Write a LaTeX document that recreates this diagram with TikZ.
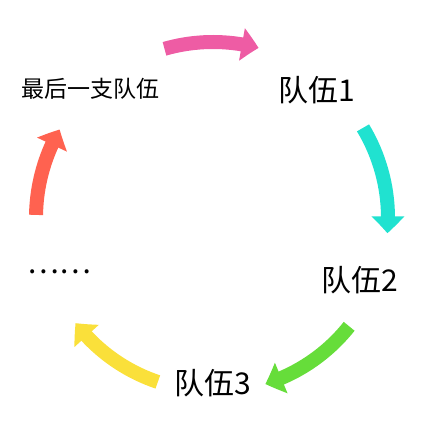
\documentclass[tikz,border=0pt]{standalone}
\usepackage{fontspec}
\setmainfont{Noto Sans CJK SC}
\usetikzlibrary{arrows.meta,bending}
\definecolor{pinkc}{RGB}{238,92,164}
\definecolor{tealc}{RGB}{32,226,208}
\definecolor{greenc}{RGB}{102,221,58}
\definecolor{yellowc}{RGB}{250,224,58}
\definecolor{redc}{RGB}{255,98,80}
\begin{document}
\begin{tikzpicture}[x=1pt,y=1pt,
  arr/.style={line width=14pt, -{Triangle[width=32pt,length=17pt,bend]}},
  big/.style={font=\fontsize{30}{30}\selectfont, inner sep=0pt},
  small/.style={font=\fontsize{23}{23}\selectfont, inner sep=0pt}]
\useasboundingbox (0,0) rectangle (427,426);
\coordinate (c) at (213,208);
\draw[arr, pinkc]   ([shift={(106:176pt)}]c) arc[start angle=106, end angle=75, radius=176pt];
\draw[arr, tealc]   ([shift={(31:175pt)}]c) arc[start angle=31, end angle=-5, radius=175pt];
\draw[arr, greenc]  ([shift={(-38.5:174pt)}]c) arc[start angle=-38.5, end angle=-72.5, radius=174pt];
\draw[arr, yellowc] ([shift={(-108.6:173pt)}]c) arc[start angle=-108.6, end angle=-142.6, radius=173pt];
\draw[arr, redc]    ([shift={(179:177pt)}]c) arc[start angle=179, end angle=150, radius=177pt];
\node[big] (t1) at (317,336) {队伍1};
\node[big] (t2) at (360,146) {队伍2};
\node[big] (t3) at (213,43) {队伍3};
\node[small] (tl) at (90,337) {最后一支队伍};
\node[big] (dots) at (59,154) {……};
\end{tikzpicture}
\end{document}
